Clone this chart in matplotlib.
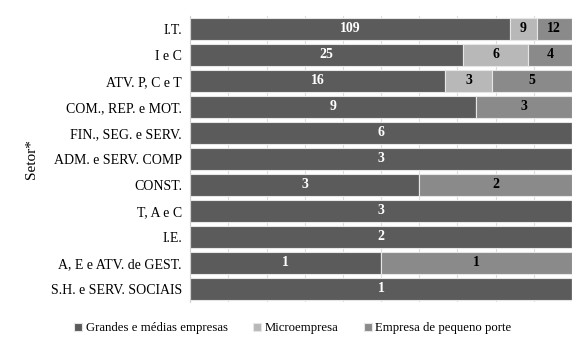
import matplotlib
matplotlib.use("Agg")
import matplotlib.pyplot as plt
import numpy as np

# ── data ───────────────────────────────────────────────────────────────────────
setores = [
    "I.T.", "I e C", "ATV. P, C e T", "COM., REP. e MOT.", "FIN., SEG. e SERV.",
    "ADM. e SERV. COMP", "CONST.", "T, A e C", "I.E.", "A, E e ATV. de GEST.",
    "S.H. e SERV. SOCIAIS",
]
grandes = [109, 25, 16, 9, 6, 3, 3, 3, 2, 1, 1]
micro = [9, 6, 3, 0, 0, 0, 0, 0, 0, 0, 0]
pequeno = [12, 4, 5, 3, 0, 0, 2, 0, 0, 1, 0]
series_names = ["Grandes e médias empresas", "Microempresa", "Empresa de pequeno porte"]

# ── style ──────────────────────────────────────────────────────────────────────
C_GRANDE = "#5B5B5B"
C_MICRO = "#B8B8B8"
C_PEQ = "#8A8A8A"
colors = [C_GRANDE, C_MICRO, C_PEQ]
text_colors = ["white", "black", "black"]

plt.rcParams["font.family"] = ["Liberation Serif", "DejaVu Serif"]

fig = plt.figure(figsize=(5.8, 3.45), dpi=100)
ax = fig.add_axes([0.328, 0.125, 0.658, 0.829])

data = np.array([grandes, micro, pequeno], dtype=float)
totals = data.sum(axis=0)
shares = data / totals
y = np.arange(len(setores))

left = np.zeros(len(setores))
for k in range(3):
    ax.barh(y, shares[k], left=left, height=0.82, color=colors[k],
            edgecolor="#E6E6E6", linewidth=0.8, label=series_names[k], zorder=2)
    for i in range(len(setores)):
        if data[k, i] > 0:
            ax.text(left[i] + shares[k, i] / 2, y[i], f"{int(data[k, i])}",
                    ha="center", va="center", color=text_colors[k],
                    fontsize=10, fontweight="bold", zorder=3)
    left += shares[k]

ax.set_xlim(0, 1)
ax.set_ylim(len(setores) - 0.5, -0.5)
ax.set_yticks(y)
ax.set_yticklabels(setores, fontsize=10)
ax.set_xticks(np.arange(0, 1.01, 0.1))
ax.tick_params(axis="x", bottom=False, labelbottom=False)
ax.tick_params(axis="y", length=0, pad=6)
ax.grid(axis="x", color="#DADDE8", linewidth=0.8, zorder=0)
for s in ["top", "right", "bottom"]:
    ax.spines[s].set_visible(False)
ax.spines["left"].set_color("#D0D0D0")
ax.set_ylabel("Setor*", fontsize=11)
ax.yaxis.set_label_coords(-0.40, 0.5)

fig.legend(loc="center", bbox_to_anchor=(0.505, 0.048), ncol=3, frameon=False,
           fontsize=9.2, handlelength=0.6, handleheight=0.6, handletextpad=0.3,
           columnspacing=2.0)

fig.savefig("out.png", dpi=100)
